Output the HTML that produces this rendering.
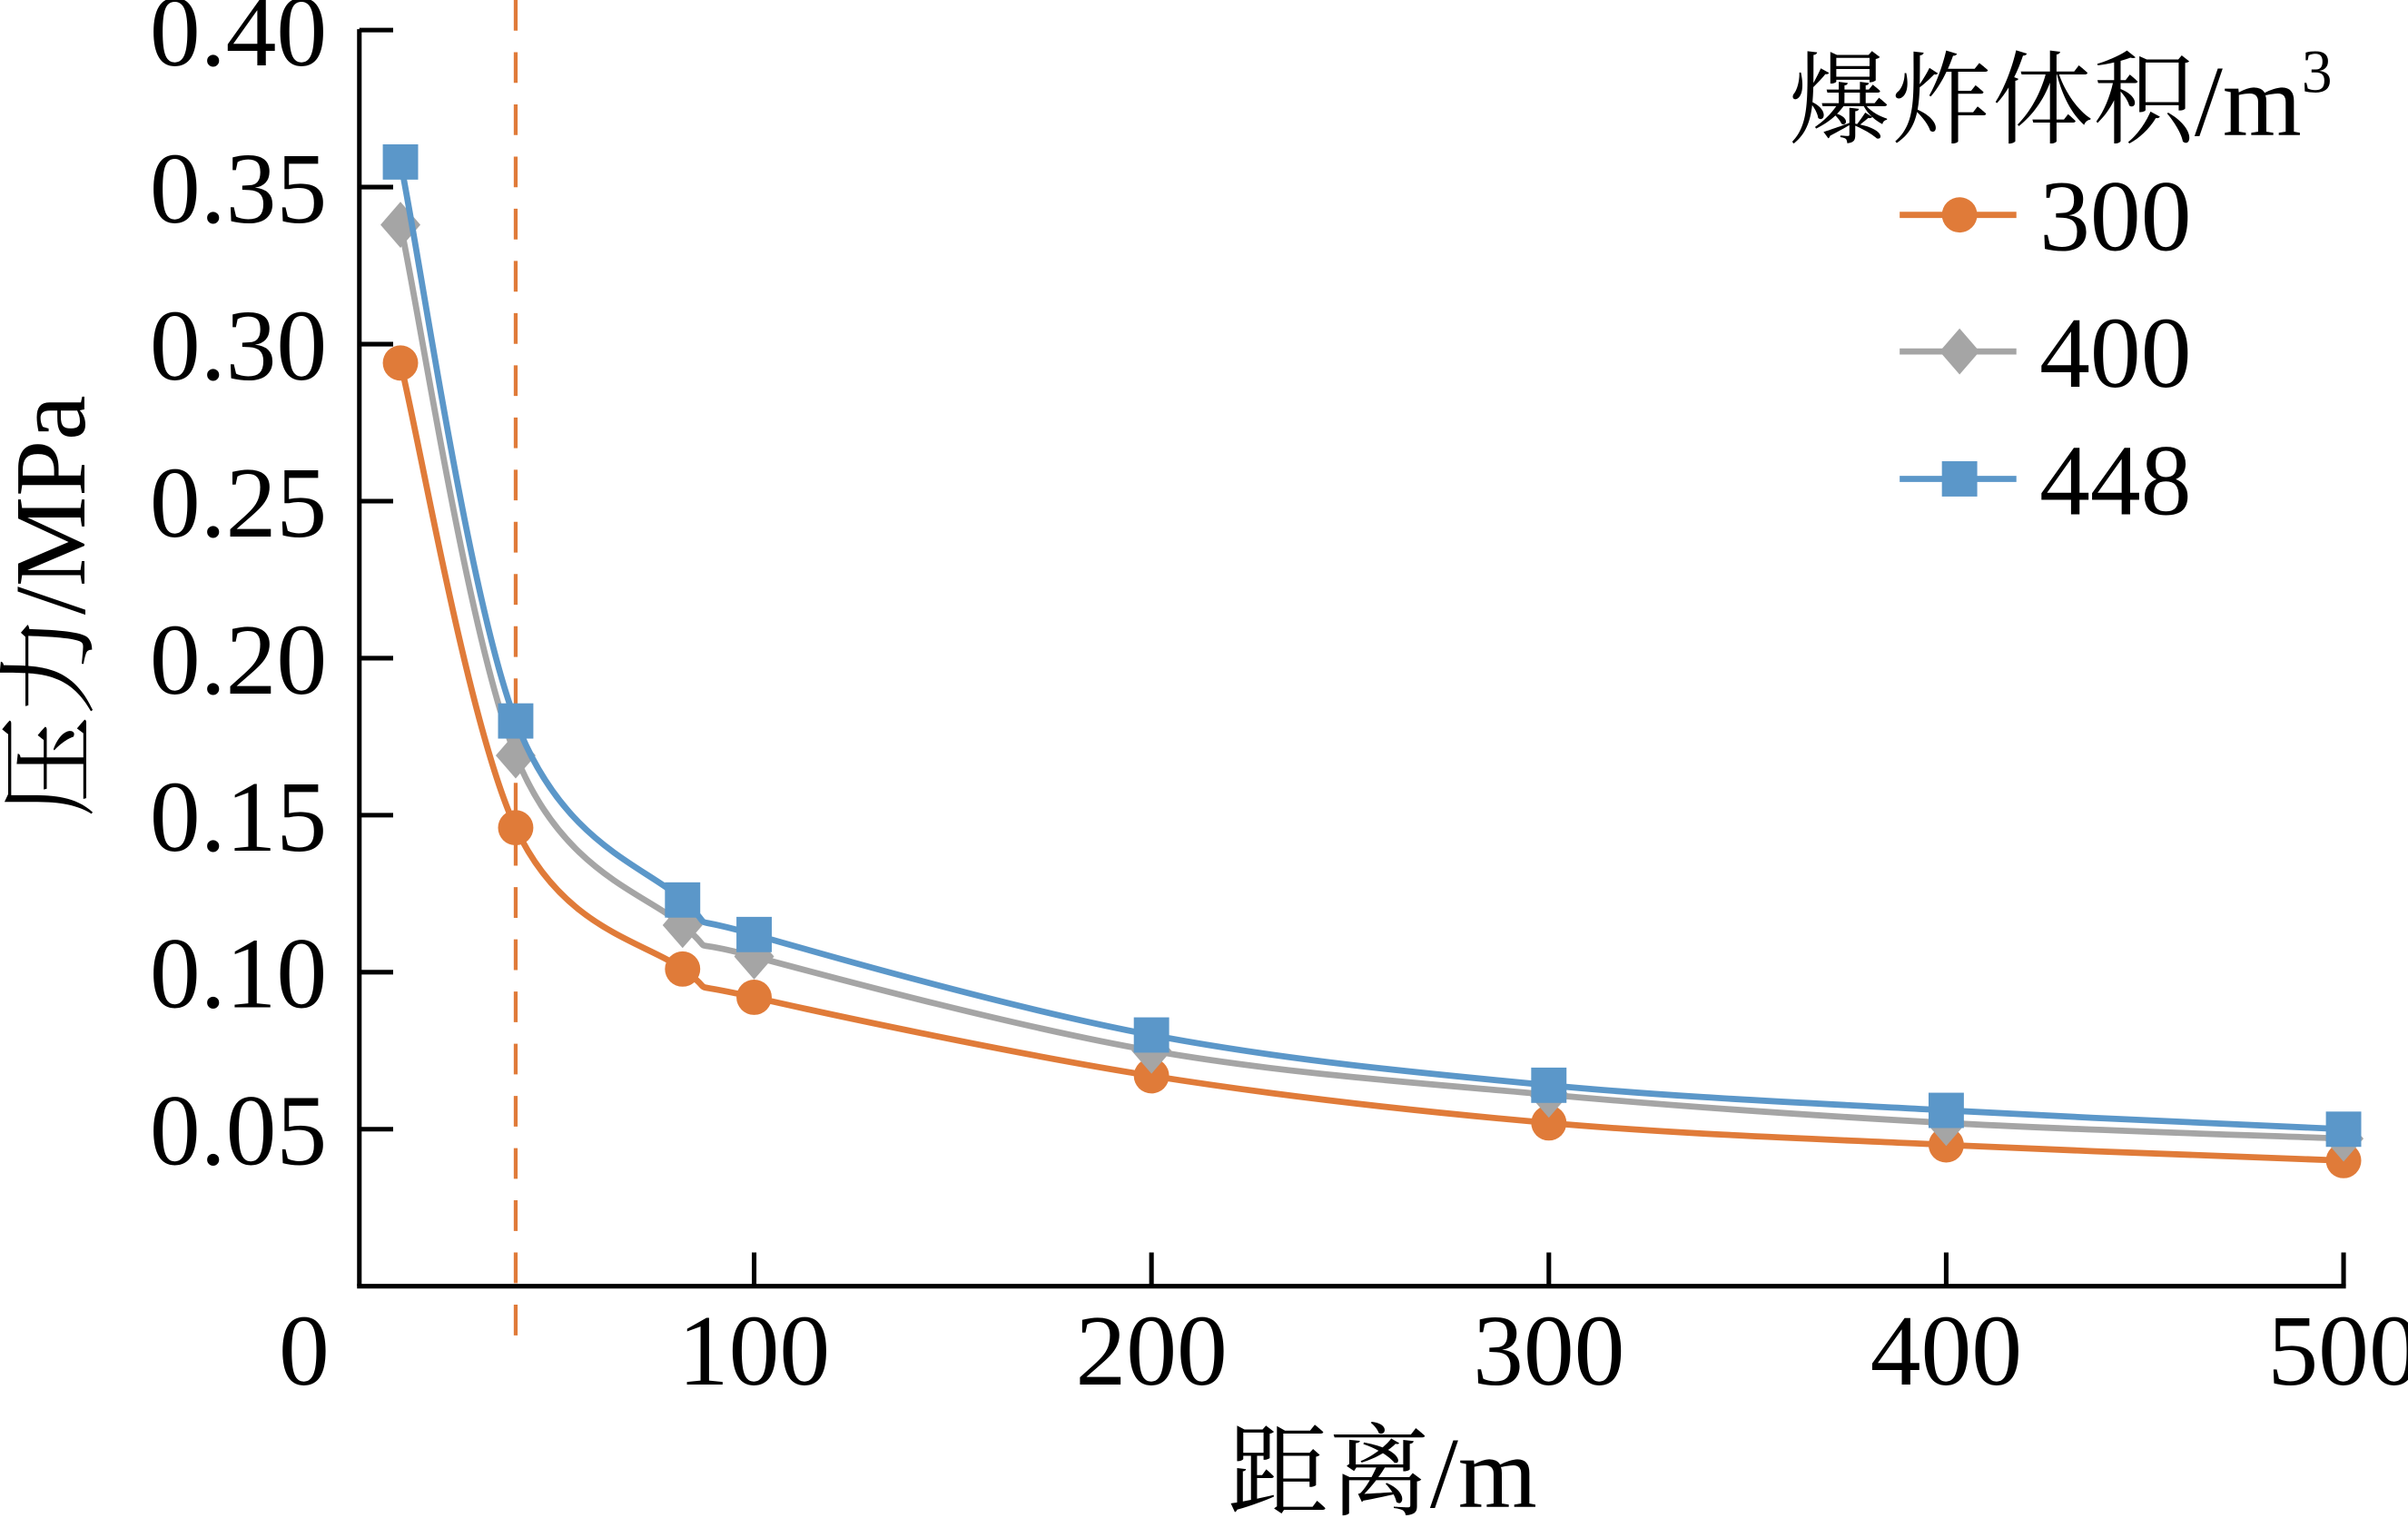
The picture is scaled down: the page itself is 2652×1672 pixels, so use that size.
<!DOCTYPE html>
<html><head><meta charset="utf-8"><style>
html,body{margin:0;padding:0;background:#fff;}
svg{display:block;}
text{font-family:"Liberation Serif","Noto Serif CJK SC",serif;fill:#000;}
</style></head><body>
<svg id="chart" width="2652" height="1672" viewBox="0 0 1568 989" preserveAspectRatio="none" xmlns="http://www.w3.org/2000/svg">
<g id="axes"></g>
<g id="series"></g>
<g id="legend">
<text x="1165" y="88" font-size="66">爆炸体积/m<tspan font-size="40" dy="-28">3</tspan></text>
</g>
</svg>
<script>
const distances = [11, 40, 82, 100, 200, 300, 400, 500];
const series300 = [0.294, 0.146, 0.101, 0.092, 0.067, 0.052, 0.045, 0.040];
const series400 = [0.338, 0.169, 0.115, 0.105, 0.075, 0.061, 0.052, 0.047];
const series448 = [0.358, 0.180, 0.123, 0.112, 0.080, 0.064, 0.056, 0.050];
const seriesNames = ["300", "400", "448"];
const xTicks = [100, 200, 300, 400, 500];
const xTickLabels = ["100", "200", "300", "400", "500"];
const yTicks = [0.05, 0.10, 0.15, 0.20, 0.25, 0.30, 0.35, 0.40];
const yTickLabels = ["0.05", "0.10", "0.15", "0.20", "0.25", "0.30", "0.35", "0.40"];
const dashedX = 40;

const NS = "http://www.w3.org/2000/svg";
const X0 = 234, Y0 = 838;
function xs(v){ return 232.3 + v * 2.5875; }
function ys(v){ return 838 - v * 2046; }
function mk(tag, attrs, parent){
  const e = document.createElementNS(NS, tag);
  for (const k in attrs) e.setAttribute(k, attrs[k]);
  parent.appendChild(e); return e;
}
const axes = document.getElementById('axes');
const ser = document.getElementById('series');
const leg = document.getElementById('legend');

// axis lines
let yAxis = mk('line', {x1:X0, y1:19, x2:X0, y2:Y0, stroke:'#000', 'stroke-width':3}, axes);


let xAxis = mk('line', {x1:X0-1.5, y1:Y0, x2:xs(500)+1.5, y2:Y0, stroke:'#000', 'stroke-width':3}, axes);



yTicks.forEach((v, i) => {
  const t = mk('line', {x1:X0, y1:ys(v), x2:X0+22, y2:ys(v), stroke:'#000', 'stroke-width':3}, axes);
  
  
  const l = mk('text', {x:213, y:ys(v)+23, 'font-size':66, 'text-anchor':'end'}, axes);
  l.textContent = yTickLabels[i];
  
  
});
xTicks.forEach((v, i) => {
  const t = mk('line', {x1:xs(v), y1:Y0, x2:xs(v), y2:Y0-22, stroke:'#000', 'stroke-width':3}, axes);
  
  
  const l = mk('text', {x:xs(v), y:902, 'font-size':66, 'text-anchor':'middle'}, axes);
  l.textContent = xTickLabels[i];
  
  
});
let zero = mk('text', {x:198, y:902, 'font-size':66, 'text-anchor':'middle'}, axes);
zero.textContent = '0';



let xt = mk('text', {x:900, y:982, 'font-size':66, 'text-anchor':'middle'}, axes);
xt.textContent = '距离/m';


let yt = mk('text', {x:0, y:0, 'font-size':66, 'text-anchor':'middle', transform:'translate(55,395) rotate(-90)'}, axes);
yt.textContent = '压力/MPa';



let dl = mk('line', {x1:xs(dashedX), y1:0, x2:xs(dashedX), y2:870, stroke:'#E07B39', 'stroke-width':2.5, 'stroke-dasharray':'20 14'}, axes);



function smoothPath(pts){
  let d = `M${pts[0][0]},${pts[0][1]}`;
  for (let i = 0; i < pts.length - 1; i++){
    const p0 = pts[i-1] || pts[i], p1 = pts[i], p2 = pts[i+1], p3 = pts[i+2] || p2;
    const t = 0.5/3;
    const c1 = [p1[0] + (p2[0]-p0[0])*t, p1[1] + (p2[1]-p0[1])*t];
    const c2 = [p2[0] - (p3[0]-p1[0])*t, p2[1] - (p3[1]-p1[1])*t];
    d += ` C${c1[0]},${c1[1]} ${c2[0]},${c2[1]} ${p2[0]},${p2[1]}`;
  }
  return d;
}
function marker(kind, x, y, color, parent){
  let e;
  if (kind === 'circle') e = mk('circle', {cx:x, cy:y, r:11.5, fill:color}, parent);
  else if (kind === 'diamond') e = mk('polygon', {points:`${x},${y-15} ${x+13},${y} ${x},${y+15} ${x-13},${y}`, fill:color}, parent);
  else e = mk('rect', {x:x-11.5, y:y-11.5, width:23, height:23, fill:color}, parent);
  return e;
}
const allSeries = [
  {vals: series300, color:'#E07B39', kind:'circle'},
  {vals: series400, color:'#A5A5A5', kind:'diamond'},
  {vals: series448, color:'#5B97C9', kind:'square'}
];
allSeries.forEach((s, si) => {
  const g = mk('g', {}, ser);
  
  
  const pts = distances.map((d, i) => [xs(d), ys(s.vals[i])]);
  const p = mk('path', {d:smoothPath(pts), fill:'none', stroke:s.color, 'stroke-width':4}, g);
  
  
  pts.forEach(pt => {
    const m = marker(s.kind, pt[0], pt[1], s.color, g);
    
    
  });
  // legend entry
  const ly = [140, 229, 312][si];
  const lg = mk('g', {}, leg);
  
  
  mk('line', {x1:1237, y1:ly, x2:1313, y2:ly, stroke:s.color, 'stroke-width':4}, lg);
  marker(s.kind, 1276, ly, s.color, lg);
  const lt = mk('text', {x:1328, y:ly+23, 'font-size':66}, lg);
  lt.textContent = seriesNames[si];
  
  
});
</script>
</body></html>
